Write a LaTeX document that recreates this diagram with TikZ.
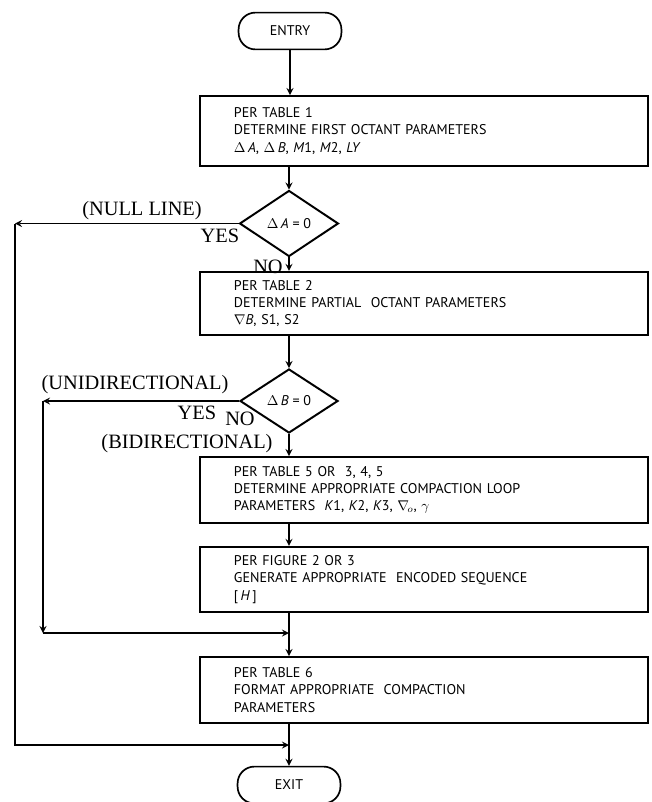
\documentclass[tikz,border=0pt]{standalone}
\usepackage{fontspec}
\setmainfont{Liberation Serif}
\setsansfont{PT Sans}
\usepackage{tikz}
\usetikzlibrary{shapes.geometric, arrows.meta, positioning}

\begin{document}
\begin{tikzpicture}[x=0.025cm,y=-0.025cm,
  term/.style={draw,rectangle,rounded corners=0.42cm,minimum width=2.57cm,
               minimum height=0.92cm,font=\sffamily\fontsize{10}{12}\selectfont,line width=1.2pt},
  proc/.style={draw,rectangle,minimum width=11.2cm,text width=9.5cm,inner xsep=0.85cm,
               align=left,font=\sffamily\fontsize{10}{12.2}\selectfont,line width=1.4pt},
  dec/.style={draw,diamond,inner sep=0pt,minimum width=2.47cm,minimum height=1.65cm,
              font=\sffamily\fontsize{10}{12}\selectfont,line width=1.4pt},
  lbl/.style={font=\fontsize{14.5}{16}\selectfont,inner sep=0pt},
  arr/.style={->,>=stealth,line width=1.2pt}
]
\useasboundingbox (0,0) rectangle (651,802);

\node[term] (entry) at (290,31) {ENTRY};
\node[proc,minimum height=1.75cm] (t1) at (424,131)
  {PER TABLE 1\\DETERMINE FIRST OCTANT PARAMETERS\\
   $\Delta$\,\textit{A}, $\Delta$\,\textit{B}, \textit{M}1, \textit{M}2, \textit{LY}};
\node[dec] (d1) at (289,223.5) {$\Delta$\,\textit{A} = 0};
\node[proc,minimum height=1.58cm] (t2) at (424,303.5)
  {PER TABLE 2\\DETERMINE PARTIAL\ \ OCTANT PARAMETERS\\
   $\nabla$\textit{B}, S1, S2};
\node[dec,minimum width=2.45cm,minimum height=1.6cm] (d2) at (289,401) {$\Delta$\,\textit{B} = 0};
\node[proc,minimum height=1.65cm] (t3) at (424,490)
  {PER TABLE 5 OR\ \ 3, 4, 5\\DETERMINE APPROPRIATE COMPACTION LOOP\\
   PARAMETERS\ \ \textit{K}1, \textit{K}2, \textit{K}3, $\nabla_{\!o}$, $\gamma$};
\node[proc,minimum height=1.63cm] (f2) at (424,579.5)
  {PER FIGURE 2 OR 3\\GENERATE APPROPRIATE\ \ ENCODED SEQUENCE\\
   {[}\,\textit{H}\,{]}};
\node[proc,minimum height=1.65cm] (t6) at (424,690)
  {PER TABLE 6\\FORMAT APPROPRIATE\ \ COMPACTION\\PARAMETERS};
\node[term] (exit) at (289,785) {EXIT};

% labels on the branches
\node[lbl] (nulll) at (142,211) {(NULL LINE)};
\node[lbl] (yes1)  at (220,236) {YES};
\node[lbl] (no1)   at (268,267) {NO};
\node[lbl] (unil)  at (135,385) {(UNIDIRECTIONAL)};
\node[lbl] (yes2)  at (197,413) {YES};
\node[lbl] (no2)   at (240,419) {NO};
\node[lbl] (bil)   at (187,444) {(BIDIRECTIONAL)};

% bends of the side lines
\coordinate (nullc) at (15,223.5);
\coordinate (uni)   at (43,401);
\coordinate (unic)  at (43,633);
\coordinate (m1)    at (289,633);
\coordinate (m2)    at (289,745);

\draw[arr] (entry) -- (entry |- t1.north);
\draw[arr] (d1 |- t1.south) -- (d1);
\draw[arr] (d1.west) -- (nullc);
\draw[arr] (nullc) |- (m2);
\draw[arr] (d1) -- (d1 |- t2.north);
\draw[arr] (d2 |- t2.south) -- (d2);
\draw[arr] (d2.west) -- (uni);
\draw[arr] (uni) -- (unic);
\draw[arr] (unic) -- (m1);
\draw[arr] (d2) -- (d2 |- t3.north);
\draw[arr] (d2 |- t3.south) -- (d2 |- f2.north);
\draw[arr] (d2 |- f2.south) -- (d2 |- t6.north);
\draw[arr] (d2 |- t6.south) -- (exit);
\end{tikzpicture}
\end{document}
